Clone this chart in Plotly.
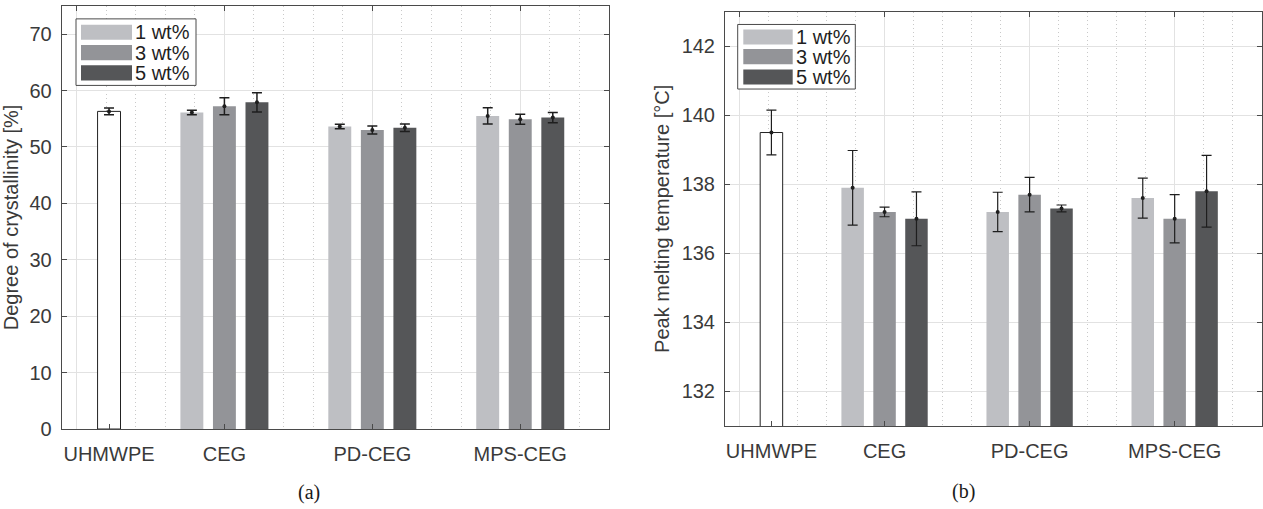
import plotly.graph_objects as go

# ---------------------------------------------------------------------------
# Data
# ---------------------------------------------------------------------------
categories = ["UHMWPE", "CEG", "PD-CEG", "MPS-CEG"]
loadings = ["1 wt%", "3 wt%", "5 wt%"]
filled = ["CEG", "PD-CEG", "MPS-CEG"]

# Degree of crystallinity [%]
cryst_neat = [56.3]
cryst_neat_err = [0.6]
cryst_1 = [56.1, 53.6, 55.5]
cryst_1_err = [0.4, 0.4, 1.45]
cryst_3 = [57.2, 53.0, 54.9]
cryst_3_err = [1.5, 0.7, 0.9]
cryst_5 = [57.9, 53.4, 55.2]
cryst_5_err = [1.7, 0.65, 0.9]

# Peak melting temperature [°C]
tm_neat = [139.5]
tm_neat_err = [0.65]
tm_1 = [137.9, 137.2, 137.6]
tm_1_err = [1.08, 0.57, 0.58]
tm_3 = [137.2, 137.7, 137.0]
tm_3_err = [0.14, 0.5, 0.7]
tm_5 = [137.0, 137.3, 137.8]
tm_5_err = [0.78, 0.1, 1.04]

# ---------------------------------------------------------------------------
# Styling / geometry
# ---------------------------------------------------------------------------
W, H = 1263, 509
FONT = "Liberation Sans, Arial, Helvetica, sans-serif"
SERIF = "Liberation Serif, DejaVu Serif, serif"
TXT = "#3a3a3a"
AX = "#4a4a4a"
GRID = "#e2e2e2"
MINOR = "#c9c9c9"
COLORS = ["#bebfc3", "#939498", "#555658"]
ERR = "#1e1e1e"

neat_pos = 0.22                 # x position of the neat polymer bar
group_pos = [1, 2, 3]           # centres of the filled groups
offsets = [-0.22, 0.0, 0.22]    # bar offsets inside a group
bar_w = 0.155
x_range = [-0.1, 3.6]


def px(x):
    return x / W


def py(y):
    return 1 - y / H


fig = go.Figure()


def add_panel(xref, yref, gridref, neat, neat_err, series, series_err, err_w):
    # an empty trace so the top grid axis is drawn for this panel
    fig.add_trace(go.Scatter(x=[None], y=[None], xaxis=gridref, yaxis=yref,
                             mode="markers", showlegend=False, hoverinfo="skip"))
    # neat polymer (white bar)
    fig.add_trace(go.Bar(
        x=[neat_pos], y=neat, width=bar_w, xaxis=xref, yaxis=yref,
        marker=dict(color="white", line=dict(color="#222222", width=1)),
        showlegend=False, hoverinfo="skip"))
    fig.add_trace(go.Scatter(
        x=[neat_pos], y=neat, xaxis=xref, yaxis=yref, mode="markers",
        marker=dict(color=ERR, size=4),
        error_y=dict(type="data", array=neat_err, color=ERR,
                     thickness=err_w, width=5),
        showlegend=False, hoverinfo="skip"))
    for k, (vals, errs) in enumerate(zip(series, series_err)):
        xs = [g + offsets[k] for g in group_pos]
        fig.add_trace(go.Bar(
            x=xs, y=vals, width=bar_w, xaxis=xref, yaxis=yref,
            marker=dict(color=COLORS[k], line=dict(width=0)),
            name=loadings[k], showlegend=False, hoverinfo="skip"))
        fig.add_trace(go.Scatter(
            x=xs, y=vals, xaxis=xref, yaxis=yref, mode="markers",
            marker=dict(color=ERR, size=4),
            error_y=dict(type="data", array=errs, color=ERR,
                         thickness=err_w, width=5),
            showlegend=False, hoverinfo="skip"))


add_panel("x", "y", "x3", cryst_neat, cryst_neat_err,
          [cryst_1, cryst_3, cryst_5], [cryst_1_err, cryst_3_err, cryst_5_err], 1.5)
add_panel("x2", "y2", "x4", tm_neat, tm_neat_err,
          [tm_1, tm_3, tm_5], [tm_1_err, tm_3_err, tm_5_err], 1.2)

tickfont = dict(family=FONT, size=20, color=TXT)
titlefont = dict(family=FONT, size=20, color=TXT)

left_dom = [px(61.7), px(609)]
right_dom = [px(725), px(1261.7)]
left_ydom = [py(438.5), py(6)]
right_ydom = [py(435.3), py(12)]

cat_axis = dict(
    range=x_range, tickmode="array", tickvals=[neat_pos] + group_pos,
    ticktext=categories, ticks="inside", ticklen=5, tickcolor=AX,
    showline=True, linecolor=AX, linewidth=1, mirror=True,
    showgrid=False, zeroline=False, tickfont=tickfont,
    ticklabelstandoff=7, fixedrange=True)

grid_axis = dict(
    range=x_range, tickmode="array", tickvals=[0, 1, 2, 3],
    ticks="inside", ticklen=5, tickcolor=AX, side="top",
    showticklabels=False, showline=False, zeroline=False,
    showgrid=True, gridcolor=GRID, gridwidth=1,
    minor=dict(tickmode="linear", tick0=0, dtick=0.2, showgrid=True,
               gridcolor=MINOR, griddash="1px,3px", gridwidth=1, ticks=""),
    fixedrange=True)

val_axis = dict(
    ticks="inside", ticklen=5, tickcolor=AX, showline=True, linecolor=AX,
    linewidth=1, mirror="ticks", showgrid=True, gridcolor=GRID, gridwidth=1,
    zeroline=False, tickfont=tickfont, ticklabelstandoff=5,
    title_font=titlefont, fixedrange=True)

fig.update_layout(
    width=W, height=H,
    margin=dict(l=0, r=0, t=0, b=0),
    paper_bgcolor="white", plot_bgcolor="white",
    barmode="overlay", showlegend=False,
    xaxis=dict(cat_axis, domain=left_dom, anchor="y"),
    yaxis=dict(val_axis, domain=left_ydom, anchor="x", range=[0, 75],
               tickvals=[0, 10, 20, 30, 40, 50, 60, 70],
               title=dict(text="Degree of crystallinity [%]", standoff=6)),
    xaxis2=dict(cat_axis, domain=right_dom, anchor="y2"),
    yaxis2=dict(val_axis, domain=right_ydom, anchor="x2", range=[131, 143],
                tickvals=[132, 134, 136, 138, 140, 142],
                title=dict(text="Peak melting temperature [°C]", standoff=6)),
    xaxis3=dict(grid_axis, overlaying="x", anchor="y"),
    xaxis4=dict(grid_axis, overlaying="x2", anchor="y2"),
)

# Legend boxes with wide colour swatches
shapes = []
annotations = []


def legend(box, sw_x, centers, sw_h, text_x):
    x0, x1, y0, y1 = box
    shapes.append(dict(type="rect", xref="paper", yref="paper",
                       x0=px(x0), x1=px(x1), y0=py(y1), y1=py(y0),
                       line=dict(color="#4a4a4a", width=1),
                       fillcolor="white", layer="above"))
    for k, c in enumerate(centers):
        shapes.append(dict(type="rect", xref="paper", yref="paper",
                           x0=px(sw_x[0]), x1=px(sw_x[1]),
                           y0=py(c + sw_h / 2), y1=py(c - sw_h / 2),
                           line=dict(width=0), fillcolor=COLORS[k],
                           layer="above"))
        annotations.append(dict(text=loadings[k], xref="paper", yref="paper",
                                x=px(text_x), y=py(c), xanchor="left",
                                yanchor="middle", showarrow=False,
                                font=dict(family=FONT, size=20, color="#1f1f1f")))


legend((76, 196, 19.3, 87.3), (81, 132), [33, 53.8, 74.5], 15.5, 132.5)
legend((737.7, 855.3, 25, 91), (743.3, 792.7), [37.8, 57.9, 78.7], 15.5, 794)

# Panel captions
annotations.append(dict(text="(a)", xref="paper", yref="paper", x=px(309), y=py(503),
                        showarrow=False, xanchor="center", yanchor="middle",
                        font=dict(family=SERIF, size=20, color="#1a1a1a")))
annotations.append(dict(text="(b)", xref="paper", yref="paper", x=px(963), y=py(502),
                        showarrow=False, xanchor="center", yanchor="middle",
                        font=dict(family=SERIF, size=20, color="#1a1a1a")))

fig.update_layout(shapes=shapes, annotations=annotations)

fig.write_html("out.html")
